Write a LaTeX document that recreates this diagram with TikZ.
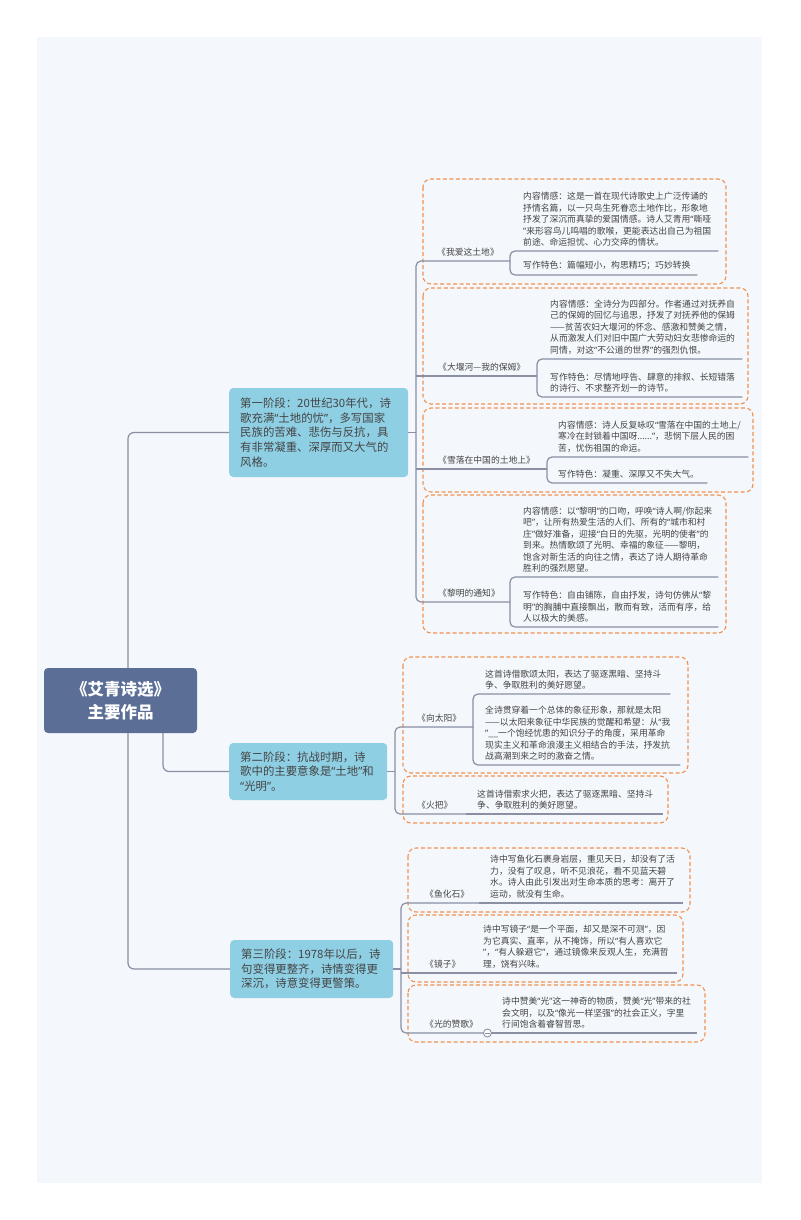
\documentclass[tikz,border=0pt]{standalone}
\usepackage{fontspec}
\setmainfont{Noto Sans CJK SC}
\newfontfamily\quotefont{Noto Sans}
\usepackage{tikz}
\definecolor{panel}{HTML}{F4F8FC}
\definecolor{linegray}{HTML}{8A8FA3}
\definecolor{dashorange}{HTML}{F2914F}
\definecolor{rootblue}{HTML}{5B6E96}
\definecolor{stageblue}{HTML}{8FCFE4}
\definecolor{txtgray}{HTML}{444444}
\newcommand\leafend{\par}
\newcommand\oq{{\quotefont “}}
\newcommand\cq{{\quotefont ”}}

\begin{document}
\begin{tikzpicture}[x=1pt, y=-1pt,
    link/.style={draw=linegray, line width=1.2pt},
    grp/.style={draw=dashorange, line width=1.1pt, dash pattern=on 4pt off 2.5pt, rounded corners=8pt},
    rootbox/.style={fill=rootblue, rounded corners=4pt, text=white, align=center, minimum width=153pt, minimum height=65pt, font={\fontsize{16.5}{23}\selectfont\bfseries}},
    stagebox/.style={fill=stageblue, rounded corners=4pt, text=txtgray, align=left, anchor=west, inner xsep=11pt, inner ysep=0pt, font={\fontsize{11.4}{14.6}\selectfont}},
    leaf/.style 2 args={anchor=south west, inner xsep=0pt, inner ysep=4.5pt, text width=#1pt, align=left, text=txtgray, font={\fontsize{8.8}{11.5}\selectfont}, execute at begin node={\leftskip=#2pt\relax}, execute at end node={\leafend}},
    fold/.style={circle, draw=linegray, fill=white, line width=0.9pt, minimum size=8pt, inner sep=0pt}
  ]
  \fill[white] (0,0) rectangle (800,1220);
  \fill[panel] (37,37) rectangle (762,1183);
  \useasboundingbox (0,0) rectangle (800,1220);

  % groups
  \draw[grp] (423,179) rectangle (726,284);
  \draw[grp] (423,288) rectangle (748,404);
  \draw[grp] (423,408) rectangle (753,492);
  \draw[grp] (423,495) rectangle (726,633);
  \draw[grp] (403,657) rectangle (688,773);
  \draw[grp] (403,776) rectangle (668,823);
  \draw[grp] (408,848) rectangle (690,912);
  \draw[grp] (408,915) rectangle (683,982);
  \draw[grp] (408,985) rectangle (705,1042);

  \node[rootbox] (root) at (120.5,700.5) {《艾青诗选》\\主要作品};

  \node[stagebox, text width=157pt, minimum height=89pt] (s1) at (229,432.5) {第一阶段：20世纪30年代，诗\\歌充满\oq{}土地的忧\cq{}，多写国家\\民族的苦难、悲伤与反抗，具\\有非常凝重、深厚而又大气的\\风格。};
  \node[stagebox, text width=136pt, minimum height=57pt] (s2) at (229,771.5) {第二阶段：抗战时期，诗\\歌中的主要意象是\oq{}土地\cq{}和\\\oq{}光明\cq{}。};
  \node[stagebox, text width=141pt, minimum height=58pt] (s3) at (230,969) {第三阶段：1978年以后，诗\\句变得更整齐，诗情变得更\\深沉，诗意变得更警策。};

  % first stage
  \node[leaf={94}{21}] (t1) at (416,261) {《我爱这土地》};
  \node[leaf={208}{13}] (c1a) at (510,251) {内容情感：这是一首在现代诗歌史上广泛传诵的\\抒情名篇，以一只鸟生死眷恋土地作比，形象地\\抒发了深沉而真挚的爱国情感。诗人艾青用\oq{}嘶哑\\\cq{}来形容鸟儿鸣唱的歌喉，更能表达出自己为祖国\\前途、命运担忧、心力交瘁的情状。};
  \node[leaf={187}{13}] (c1b) at (510,275) {写作特色：篇幅短小，构思精巧；巧妙转换};

  \node[leaf={121}{22}] (t2) at (416,376) {《大堰河—我的保姆》};
  \node[leaf={205}{13}] (c2a) at (537,359) {内容情感：全诗分为四部分。作者通过对抚养自\\己的保姆的回忆与追思，抒发了对抚养他的保姆\\——贫苦农妇大堰河的怀念、感激和赞美之情，\\从而激发人们对旧中国广大劳动妇女悲惨命运的\\同情，对这\oq{}不公道的世界\cq{}的强烈仇恨。};
  \node[leaf={205}{13}] (c2b) at (537,397) {写作特色：尽情地呼告、肆意的排叙、长短错落\\的诗行、不求整齐划一的诗节。};

  \node[leaf={131}{22}] (t3) at (416,469) {《雪落在中国的土地上》};
  \node[leaf={201}{11}] (c3a) at (547,457) {内容情感：诗人反复咏叹\oq{}雪落在中国的土地上/\\寒冷在封锁着中国呀......\cq{}，悲悯下层人民的困\\苦，忧伤祖国的命运。};
  \node[leaf={160}{11}] (c3b) at (547,483) {写作特色：凝重、深厚又不失大气。};

  \node[leaf={94}{22}] (t4) at (416,602) {《黎明的通知》};
  \node[leaf={208}{13}] (c4a) at (510,577) {内容情感：以\oq{}黎明\cq{}的口吻，呼唤\oq{}诗人啊/你起来\\吧\cq{}，让所有热爱生活的人们、所有的\oq{}城市和村\\庄\cq{}做好准备，迎接\oq{}白日的先驱，光明的使者\cq{}的\\到来。热情歌颂了光明、幸福的象征——黎明，\\饱含对新生活的向往之情，表达了诗人期待革命\\胜利的强烈愿望。};
  \node[leaf={208}{13}] (c4b) at (510,627) {写作特色：自由铺陈，自由抒发，诗句仿佛从\oq{}黎\\明\cq{}的胸脯中直接飘出，散而有致，活而有序，给\\人以极大的美感。};

  % second stage
  \node[leaf={78}{22}] (t5) at (395,727) {《向太阳》};
  \node[leaf={197}{12}] (c5a) at (473,694) {这首诗借歌颂太阳，表达了驱逐黑暗、坚持斗\\争、争取胜利的美好愿望。};
  \node[leaf={207}{12}] (c5b) at (473,765) {全诗贯穿着一个总体的象征形象，那就是太阳\\——以太阳来象征中华民族的觉醒和希望：从\oq{}我\\\cq{}\_\_一个饱经忧患的知识分子的角度，采用革命\\现实主义和革命浪漫主义相结合的手法，抒发抗\\战高潮到来之时的激奋之情。};

  \node[leaf={71}{22}] (t6) at (395,814) {《火把》};
  \node[leaf={197}{11}] (c6) at (466,814) {这首诗借索求火把，表达了驱逐黑暗、坚持斗\\争、争取胜利的美好愿望。};

  % third stage
  \node[leaf={78}{24}] (t7) at (401,903) {《鱼化石》};
  \node[leaf={204}{11}] (c7) at (479,903) {诗中写鱼化石裹身岩层，重见天日，却没有了活\\力，没有了叹息，听不见浪花，看不见蓝天碧\\水。诗人由此引发出对生命本质的思考：离开了\\运动，就没有生命。};

  \node[leaf={71}{24}] (t8) at (401,973) {《镜子》};
  \node[leaf={205}{11}] (c8) at (472,973) {诗中写镜子\oq{}是一个平面，却又是深不可测\cq{}，因\\为它真实、直率，从不掩饰，所以\oq{}有人喜欢它\\\cq{}，\oq{}有人躲避它\cq{}，通过镜像来反观人生，充满哲\\理，饶有兴味。};

  \node[leaf={90}{24}] (t9) at (401,1033) {《光的赞歌》};
  \node[leaf={206}{11}] (c9) at (491,1033) {诗中赞美\oq{}光\cq{}这一神奇的物质，赞美\oq{}光\cq{}带来的社\\会文明，以及\oq{}像光一样坚强\cq{}的社会正义，字里\\行间饱含着睿智哲思。};

  % root to stages
  \draw[link, rounded corners=6pt] ([xshift=7.5pt]root.north) |- (s1.west);
  \draw[link, rounded corners=6pt] ([xshift=42.5pt]root.south) |- (s2.west);
  \draw[link, rounded corners=6pt] ([xshift=7.5pt]root.south) |- (s3.west);

  % stage one branches
  \draw[link] (s1.east) -- (s1.east -| t1.south west);
  \draw[link, rounded corners=5pt] (t1.south east) -- (t1.south west) -- (t4.south west) -- (t4.south east);
  \draw[link] (t2.south west) -- (t2.south east);
  \draw[link] (t3.south west) -- (t3.south east);
  \draw[link, rounded corners=5pt] (c1a.south east) -- (c1a.south west) -- (c1b.south west) -- (c1b.south east);
  \draw[link, rounded corners=5pt] (c2a.south east) -- (c2a.south west) -- (c2b.south west) -- (c2b.south east);
  \draw[link, rounded corners=5pt] (c3a.south east) -- (c3a.south west) -- (c3b.south west) -- (c3b.south east);
  \draw[link, rounded corners=5pt] (c4a.south east) -- (c4a.south west) -- (c4b.south west) -- (c4b.south east);

  % stage two branches
  \draw[link] (s2.east) -- (s2.east -| t5.south west);
  \draw[link, rounded corners=5pt] (t5.south east) -- (t5.south west) -- (t6.south west) -- (t6.south east);
  \draw[link, rounded corners=5pt] (c5a.south east) -- (c5a.south west) -- (c5b.south west) -- (c5b.south east);
  \draw[link] (c6.south west) -- (c6.south east);

  % stage three branches
  \draw[link] (s3.east) -- (s3.east -| t7.south west);
  \draw[link, rounded corners=5pt] (t7.south east) -- (t7.south west) -- (t9.south west) -- (t9.south east);
  \draw[link] (t8.south west) -- (t8.south east);
  \draw[link] (c7.south west) -- (c7.south east);
  \draw[link] (c8.south west) -- (c8.south east);
  \draw[link] (c9.south west) -- (c9.south east);

  \node[fold] (k9) at ([xshift=-4pt]t9.south east) {};
  \draw[link, line width=0.9pt] ([xshift=-2.5pt]k9.center) -- ([xshift=2.5pt]k9.center);
\end{tikzpicture}
\end{document}
